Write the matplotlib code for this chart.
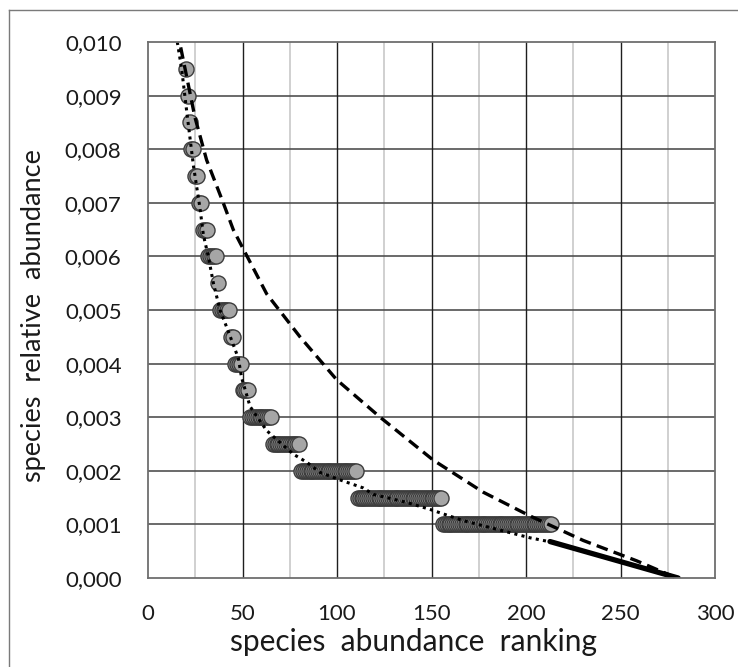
import numpy as np
import matplotlib
matplotlib.use("Agg")
import matplotlib.pyplot as plt
from matplotlib.lines import Line2D

plt.rcParams['font.family'] = ['Lato', 'DejaVu Sans']

# ---- data ----
levels = [0.0095, 0.0090, 0.0085, 0.0080, 0.0075, 0.0070, 0.0065, 0.0060, 0.0055,
          0.0050, 0.0045, 0.0040, 0.0035, 0.0030, 0.0025, 0.0020, 0.0015, 0.0010]
first_rank = [20, 21, 22, 23, 25, 27, 29, 32, 37, 38, 44, 46, 50, 54, 66, 81, 111, 156]
last_rank = [20, 21, 22, 24, 26, 28, 31, 36, 37, 43, 45, 49, 53, 65, 80, 110, 155, 213]

dotted_x = [15.5, 17.8, 20.5, 24.0, 27.5, 29.3, 31.9, 34.6, 38.1, 42.5, 47.8, 49.5, 54.0,
            62.8, 69.8, 76.9, 84.0, 91.0, 101.6, 113.9, 119.2, 136.9, 149.2, 166.8,
            184.5, 202.1, 212.0]
dotted_y = [0.0100, 0.0095, 0.0087, 0.0077, 0.0069, 0.0064, 0.0060, 0.0055, 0.0050, 0.0046,
            0.0041, 0.00374, 0.0032, 0.00275, 0.00253, 0.00231, 0.00216, 0.00197, 0.00183,
            0.00168, 0.00156, 0.00141, 0.00128, 0.00107, 0.00091, 0.00075, 0.00068]

dashed_x = [17.3, 24.8, 31.0, 39.8, 45.1, 49.5, 62.8, 80.4, 99.8, 122.8, 150.9, 177.4,
            202.0, 230.3, 258.6, 279.7]
dashed_y = [0.0099, 0.0086, 0.0078, 0.0070, 0.0065, 0.0062, 0.0053, 0.0045, 0.0037, 0.0030,
            0.0022, 0.0016, 0.00116, 0.0007, 0.00032, 0.0]

tail_x = [212.7, 280.5]
tail_y = [0.00068, 0.0]

x_ticks = [0, 50, 100, 150, 200, 250, 300]
y_ticks = [0.000, 0.001, 0.002, 0.003, 0.004, 0.005, 0.006, 0.007, 0.008, 0.009, 0.010]
y_tick_labels = ["0,000", "0,001", "0,002", "0,003", "0,004", "0,005", "0,006",
                 "0,007", "0,008", "0,009", "0,010"]

# ---- figure ----
fig = plt.figure(figsize=(7.38, 6.67), dpi=100)
ax = fig.add_axes([148 / 738, 1 - 578 / 667, (715 - 148) / 738, (578 - 42) / 667])

ax.set_xlim(0, 300)
ax.set_ylim(0, 0.010)

# grid
for xv in np.arange(25, 300, 50):
    ax.axvline(xv, color='#c4c4c4', lw=1.1, zorder=1)
for xv in np.arange(50, 300, 50):
    ax.axvline(xv, color='#1e1e1e', lw=1.0, zorder=1.2)
for yv in y_ticks[1:-1]:
    ax.axhline(yv, color='#505050', lw=1.2, zorder=1.1)

# data points
xs, ys = [], []
for lv, a, b in zip(levels, first_rank, last_rank):
    r = np.arange(a, b + 1)
    xs.extend(r)
    ys.extend([lv] * len(r))
ax.scatter(xs, ys, s=118, facecolor='#a6a6a6', edgecolor='#3c3c3c', linewidth=1.0,
           zorder=3)

# lines
ax.plot(dashed_x, dashed_y, color='black', lw=2.4, dashes=(3.5, 1.9), zorder=4,
        solid_capstyle='butt', dash_capstyle='butt', clip_on=False)
ax.plot(dotted_x, dotted_y, color='black', lw=2.2, dashes=(1.0, 1.4), zorder=5,
        clip_on=False)
ax.plot(tail_x, tail_y, color='black', lw=3.8, solid_capstyle='round', zorder=5)

ax.set_xticks(x_ticks)
ax.set_xticklabels([str(v) for v in x_ticks])
ax.set_yticks(y_ticks)
ax.set_yticklabels(y_tick_labels)
ax.tick_params(length=0, labelsize=16, pad=19, colors='#1a1a1a')

for sp in ax.spines.values():
    sp.set_color('#6e6e6e')
    sp.set_linewidth(1.3)
    sp.set_zorder(6)

ax.set_xlabel("species  abundance  ranking", fontsize=21.5, color='#1a1a1a')
ax.xaxis.set_label_coords((413 - 148) / 567, -0.093)
ax.set_ylabel("species  relative  abundance", fontsize=19.5, color='#1a1a1a')
ax.yaxis.set_label_coords((46 - 148) / 567, 0.49)

# outer frame (left and top only visible)
fig.add_artist(Line2D([9 / 738, 9 / 738], [0, 1 - 10 / 667], transform=fig.transFigure,
                      color='#7a7a7a', lw=1.0))
fig.add_artist(Line2D([9 / 738, 1], [1 - 10 / 667, 1 - 10 / 667], transform=fig.transFigure,
                      color='#7a7a7a', lw=1.0))

fig.savefig("out.png", dpi=100, facecolor='white')
